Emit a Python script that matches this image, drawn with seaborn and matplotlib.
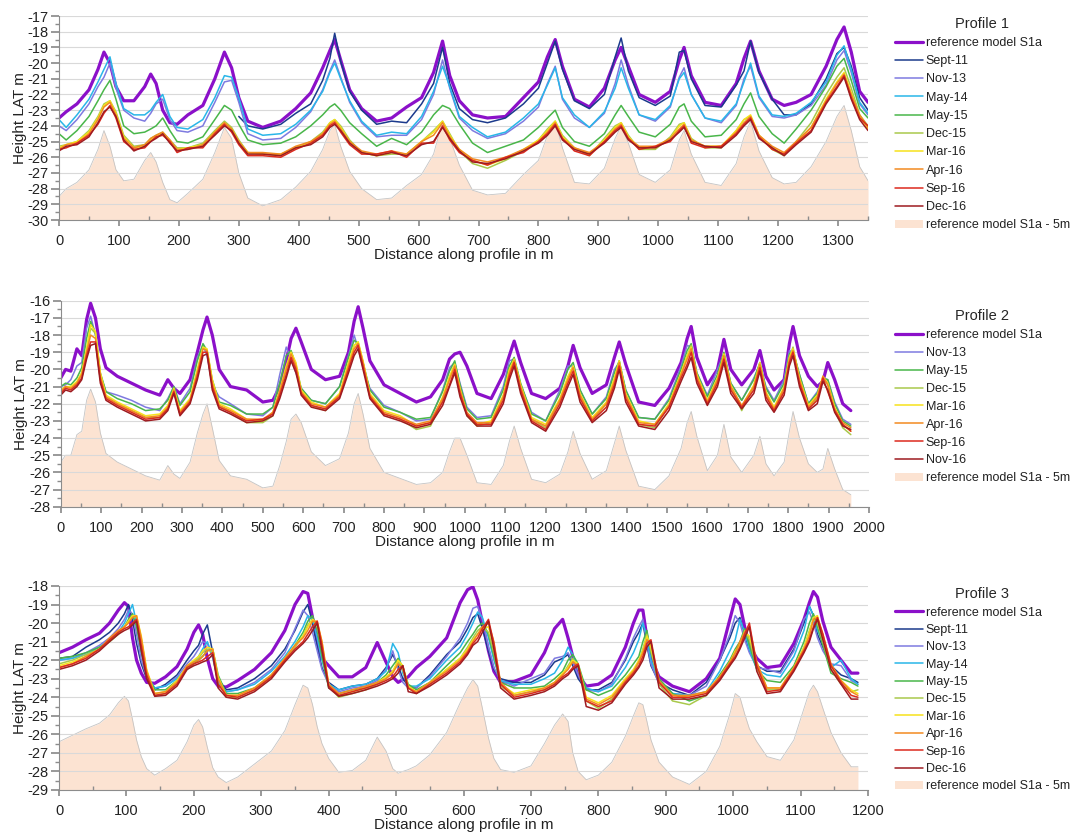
import numpy as np
import seaborn as sns
import matplotlib.pyplot as plt
from matplotlib.lines import Line2D
from matplotlib.patches import Patch
from matplotlib.ticker import MultipleLocator

sns.set_theme(style='white')
plt.rcParams['font.family'] = ['Liberation Sans', 'DejaVu Sans']
plt.rcParams['axes.unicode_minus'] = False

nan = np.nan

# ---------------- Profile 1 ----------------
p1_x = [0, 12, 30, 50, 65, 75, 85, 95, 108, 125,
        143, 153, 162, 173, 185, 197, 215, 240, 260, 276,
        288, 300, 315, 340, 370, 395, 420, 440, 452, 460,
        470, 485, 505, 530, 555, 580, 605, 625, 640, 652,
        668, 690, 715, 745, 775, 800, 815, 828, 840, 860,
        885, 910, 928, 938, 950, 968, 995, 1020, 1035, 1043,
        1055, 1078, 1105, 1130, 1143, 1154, 1168, 1190, 1210, 1230,
        1255, 1280, 1298, 1310, 1322, 1336, 1350]

p1_ref = [-23.5, -23.1, -22.6, -21.7, -20.4, -19.3, -20.0, -21.5, -22.4, -22.4,
          -21.5, -20.7, -21.3, -23.0, -23.8, -23.9, -23.3, -22.7, -21.0, -19.3,
          -20.3, -22.2, -23.7, -24.1, -23.7, -22.9, -21.9, -20.3, -19.2, -18.5,
          -19.8, -21.7, -22.9, -23.7, -23.5, -22.8, -22.2, -20.6, -18.6, -20.8,
          -22.4, -23.3, -23.5, -23.4, -22.2, -21.2, -19.6, -18.5, -20.2, -22.3,
          -22.8, -21.6, -19.8, -19.0, -20.2, -22.0, -22.5, -21.8, -19.8, -19.0,
          -20.8, -22.5, -22.7, -21.3, -19.7, -18.6, -20.5, -22.3, -22.7, -22.5,
          -22.0, -20.2, -18.5, -17.7, -19.3, -21.8, -22.5]

p1_sep11 = [nan] * 21 + [
    -23.4, -24.0, -24.2, -23.9, -23.2, -22.6, -21.1, -19.7, -18.1, -19.9,
    -21.8, -23.0, -23.9, -23.7, -23.8, -22.6, -21.3, -19.0, -21.3, -22.9,
    -23.6, -23.8, -23.5, -22.6, -21.6, -20.0, -18.6, -20.4, -22.4, -22.9,
    -22.0, -19.6, -18.4, -20.5, -22.2, -22.7, -22.1, -19.3, -19.2, -21.0,
    -22.7, -22.8, -21.4, -20.5, -18.6, -20.6, -22.3, -23.3, -23.3, -22.6,
    -21.0, -19.4, -19.0, -20.2, -22.2, -23.0]

p1_nov13 = [-24.0, -24.3, -23.6, -22.6, -21.5, -20.9, -20.0, -21.6, -23.0, -23.5,
            -23.7, -23.2, -22.6, -22.3, -23.6, -24.3, -24.4, -24.0, -22.5, -21.2,
            -21.1, -22.5, -24.5, -24.9, -24.8, -24.1, -23.1, -21.7, -20.5, -19.8,
            -20.9, -22.5, -23.8, -24.7, -24.6, -24.6, -23.6, -22.0, -19.8, -21.6,
            -23.5, -24.3, -24.8, -24.5, -23.7, -22.8, -21.3, -20.2, -22.3, -23.5,
            -24.1, -23.2, -21.3, -19.8, -21.4, -23.3, -23.7, -22.8, -20.9, -20.3,
            -22.0, -23.5, -23.8, -22.7, -21.0, -20.2, -22.2, -23.4, -23.5, -23.3,
            -22.7, -21.4, -19.8, -19.2, -20.6, -22.6, -23.3]

p1_may14 = [-23.6, -24.1, -23.3, -22.3, -21.2, -20.4, -19.6, -21.3, -22.9, -23.3,
            -23.3, -23.0, -22.5, -22.0, -23.4, -24.1, -24.2, -23.6, -22.2, -20.8,
            -20.9, -22.2, -24.2, -24.6, -24.5, -23.9, -23.0, -21.8, -20.6, -20.0,
            -21.0, -22.4, -23.7, -24.6, -24.4, -24.5, -23.4, -21.8, -20.2, -21.5,
            -23.4, -24.1, -24.7, -24.4, -23.5, -22.6, -21.4, -20.3, -22.2, -23.3,
            -24.1, -23.1, -21.6, -20.3, -21.6, -23.3, -23.6, -22.7, -21.0, -20.6,
            -22.0, -23.5, -23.7, -22.6, -21.2, -20.0, -22.1, -23.3, -23.4, -23.2,
            -22.5, -21.2, -19.5, -18.9, -20.4, -22.5, -23.2]

p1_may15 = [-24.5, -24.9, -24.3, -23.4, -22.4, -21.7, -21.1, -22.3, -24.0, -24.5,
            -24.4, -24.2, -24.0, -23.5, -24.3, -25.0, -25.1, -24.7, -23.6, -22.7,
            -23.0, -23.9, -24.9, -25.2, -25.1, -24.7, -24.0, -23.3, -22.8, -22.6,
            -23.0, -23.8, -24.5, -25.3, -24.8, -25.2, -24.4, -23.3, -22.7, -22.9,
            -23.9, -25.1, -25.7, -25.3, -24.9, -24.1, -23.5, -23.0, -24.1, -25.0,
            -25.3, -24.5, -23.3, -22.7, -23.4, -24.4, -24.7, -23.9, -22.8, -22.6,
            -23.7, -24.7, -24.6, -23.6, -22.6, -21.9, -23.4, -24.5, -25.1, -24.2,
            -23.0, -21.5, -20.2, -19.7, -21.1, -22.9, -23.5]

p1_dec15 = [-25.3, -25.2, -25.0, -24.3, -23.4, -22.6, -22.4, -23.1, -24.6, -25.3,
            -25.2, -24.8, -24.6, -24.4, -24.9, -25.4, -25.4, -25.1, -24.3, -23.7,
            -24.1, -24.9, -25.7, -25.8, -25.9, -25.4, -25.0, -24.4, -23.8, -23.6,
            -24.0, -24.9, -25.7, -25.9, -25.8, -25.8, -25.0, -24.3, -23.7, -24.5,
            -25.6, -26.4, -26.7, -26.2, -25.6, -24.9, -24.2, -23.7, -24.6, -25.4,
            -25.9, -24.8, -24.0, -23.8, -24.6, -25.5, -25.5, -24.7, -23.9, -23.8,
            -24.8, -25.4, -25.4, -24.3, -23.6, -23.4, -24.6, -25.5, -25.9, -25.0,
            -23.8, -22.0, -20.9, -20.3, -21.6, -23.3, -24.0]

p1_mar16 = [-25.4, -25.2, -25.0, -24.4, -23.5, -22.7, -22.4, -23.2, -24.7, -25.4,
            -25.3, -24.9, -24.7, -24.5, -25.0, -25.5, -25.4, -25.2, -24.4, -23.8,
            -24.2, -25.0, -25.7, -25.8, -25.8, -25.4, -25.1, -24.5, -23.8, -23.6,
            -24.1, -25.0, -25.7, -25.9, -25.7, -25.8, -25.0, -24.4, -23.7, -24.6,
            -25.5, -26.2, -26.5, -26.1, -25.5, -24.9, -24.3, -23.7, -24.7, -25.4,
            -25.8, -24.9, -24.1, -23.8, -24.7, -25.4, -25.4, -24.8, -24.0, -23.8,
            -24.9, -25.3, -25.3, -24.3, -23.6, -23.3, -24.6, -25.4, -25.8, -25.1,
            -24.1, -22.3, -21.2, -20.6, -21.9, -23.4, -24.2]

p1_apr16 = [-25.5, -25.2, -25.1, -24.5, -23.6, -22.8, -22.5, -23.3, -24.8, -25.4,
            -25.2, -24.8, -24.6, -24.4, -24.9, -25.5, -25.5, -25.2, -24.4, -23.8,
            -24.2, -25.0, -25.7, -25.7, -25.8, -25.3, -25.0, -24.5, -23.9, -23.7,
            -24.2, -25.0, -25.6, -25.8, -25.6, -25.8, -25.0, -24.6, -23.8, -24.7,
            -25.5, -26.1, -26.3, -26.0, -25.5, -25.0, -24.4, -23.8, -24.8, -25.4,
            -25.7, -25.0, -24.2, -23.9, -24.8, -25.3, -25.3, -24.8, -24.2, -23.9,
            -24.9, -25.3, -25.3, -24.4, -23.8, -23.4, -24.6, -25.3, -25.7, -25.0,
            -24.1, -22.4, -21.3, -20.7, -22.0, -23.3, -24.1]

p1_sep16 = [-25.5, -25.4, -25.1, -24.6, -23.9, -23.2, -22.7, -23.5, -25.0, -25.5,
            -25.4, -25.0, -24.7, -24.6, -25.0, -25.7, -25.4, -25.4, -24.5, -23.9,
            -24.4, -25.2, -25.9, -25.9, -26.0, -25.5, -25.1, -24.6, -24.0, -23.8,
            -24.4, -25.2, -25.8, -25.8, -25.6, -26.0, -25.1, -25.1, -24.0, -24.9,
            -25.7, -26.2, -26.5, -26.0, -25.7, -25.0, -24.5, -23.9, -24.8, -25.6,
            -25.9, -25.0, -24.3, -24.0, -24.8, -25.5, -25.3, -25.0, -24.3, -24.0,
            -25.1, -25.4, -25.3, -24.5, -23.9, -23.5, -24.7, -25.5, -25.8, -25.1,
            -24.3, -22.5, -21.5, -20.8, -22.2, -23.5, -24.0]

p1_dec16 = [-25.6, -25.3, -25.2, -24.7, -23.8, -23.1, -22.8, -23.4, -24.9, -25.6,
            -25.3, -25.0, -24.8, -24.5, -25.1, -25.6, -25.5, -25.3, -24.6, -24.0,
            -24.3, -25.1, -25.8, -25.8, -25.9, -25.4, -25.2, -24.7, -24.1, -23.9,
            -24.3, -25.1, -25.7, -25.9, -25.7, -25.9, -25.2, -25.0, -24.1, -24.8,
            -25.6, -26.3, -26.4, -26.1, -25.6, -25.1, -24.6, -24.0, -24.9, -25.5,
            -25.8, -25.1, -24.4, -24.1, -24.9, -25.4, -25.4, -24.9, -24.4, -24.1,
            -25.0, -25.3, -25.4, -24.6, -24.0, -23.6, -24.8, -25.4, -25.9, -25.2,
            -24.4, -22.6, -21.6, -20.9, -22.3, -23.6, -24.3]

p1_minus5 = [-28.5, -28.0, -27.6, -26.8, -25.5, -24.3, -25.3, -26.8, -27.5, -27.4,
             -26.2, -25.7, -26.3, -27.6, -28.7, -28.9, -28.3, -27.4, -25.7, -24.1,
             -24.8, -27.0, -28.6, -29.1, -28.7, -27.9, -26.9, -25.5, -24.3, -23.9,
             -25.3, -26.9, -28.0, -28.7, -28.6, -27.8, -27.1, -25.8, -23.7, -24.8,
             -26.5, -28.1, -28.4, -28.3, -27.1, -26.2, -24.6, -23.7, -25.4, -27.6,
             -27.7, -26.7, -24.8, -24.0, -25.1, -27.1, -27.6, -26.8, -24.9, -24.3,
             -25.8, -27.6, -27.8, -26.4, -24.7, -23.7, -25.6, -27.3, -27.7, -27.6,
             -26.6, -25.0, -23.4, -22.7, -24.3, -26.6, -27.5]

# ---------------- Profile 2 ----------------
p2_x = [0, 12, 25, 40, 52, 64, 74, 86, 98, 112,
        140, 175, 210, 245, 265, 280, 295, 320, 338, 352,
        362, 375, 392, 420, 460, 500, 525, 542, 558, 570,
        582, 595, 620, 655, 690, 712, 726, 736, 748, 765,
        800, 840, 880, 915, 945, 962, 975, 988, 1005, 1030,
        1065, 1095, 1110, 1122, 1138, 1165, 1200, 1235, 1255, 1268,
        1285, 1315, 1350, 1370, 1382, 1398, 1430, 1470, 1505, 1535,
        1550, 1560, 1574, 1600, 1625, 1641, 1658, 1685, 1715, 1730,
        1745, 1765, 1790, 1803, 1812, 1828, 1850, 1872, 1886, 1898,
        1915, 1935, 1955]

p2_ref = [-20.5, -20.0, -20.1, -18.8, -19.2, -17.1, -16.15, -17.0, -18.8, -19.9,
          -20.4, -20.8, -21.2, -21.5, -20.6, -21.1, -21.4, -20.6, -19.0, -17.7,
          -16.95, -18.0, -20.0, -21.0, -21.2, -21.9, -21.8, -21.0, -19.5, -18.2,
          -17.6, -18.4, -20.0, -20.6, -20.4, -19.0, -17.2, -16.35, -17.6, -19.5,
          -20.9, -21.4, -21.9, -21.6, -20.6, -19.4, -19.1, -19.0, -19.8, -21.4,
          -21.7, -20.3, -19.2, -18.35, -19.6, -21.4, -21.7, -21.1, -19.8, -18.6,
          -19.9, -21.4, -20.9, -19.3, -18.4, -19.7, -21.9, -22.1, -21.1, -19.6,
          -18.2, -17.5, -19.3, -20.9, -20.0, -18.25, -20.0, -20.9, -20.0, -18.9,
          -20.4, -21.2, -20.6, -18.5, -17.5, -19.2, -20.4, -21.0, -20.7, -19.6,
          -20.6, -22.0, -22.4]

p2_nov13 = [-21.0, -20.9, -20.6, -19.8, -19.6, -17.6, -16.9, -18.0, -20.3, -21.3,
            -21.5, -21.8, -22.2, -22.4, -21.7, -21.0, -22.0, -21.1, -19.3, -18.6,
            -19.2, -20.9, -21.6, -22.0, -22.6, -22.7, -22.2, -20.3, -18.7, -19.4,
            -20.2, -21.1, -21.8, -22.0, -21.0, -19.2, -18.0, -18.8, -19.9, -21.1,
            -22.1, -22.5, -23.0, -22.9, -21.2, -19.9, -19.6, -20.8, -22.2, -22.8,
            -22.7, -21.0, -19.5, -19.4, -20.9, -22.5, -23.0, -21.2, -19.8, -19.8,
            -21.2, -22.6, -21.6, -20.0, -19.6, -21.2, -22.8, -22.9, -21.7, -19.8,
            -18.6, -18.7, -20.2, -21.5, -20.0, -19.1, -20.8, -21.8, -20.5, -19.7,
            -21.0, -21.8, -20.6, -18.9, -19.0, -20.3, -22.0, -21.3, -20.5, -20.6,
            -21.9, -22.9, -23.2]

p2_may15 = [-21.0, -20.8, -20.9, -20.5, -19.9, -18.2, -17.2, -17.9, -20.2, -21.3,
            -21.7, -22.0, -22.4, -22.3, -21.8, -21.0, -22.1, -21.3, -19.5, -18.5,
            -18.9, -20.6, -21.9, -22.1, -22.6, -22.6, -22.2, -20.8, -19.2, -18.9,
            -19.8, -21.1, -21.8, -22.0, -21.0, -19.3, -18.3, -18.5, -19.6, -21.2,
            -22.2, -22.5, -22.9, -22.8, -21.3, -20.1, -19.5, -20.9, -22.3, -22.9,
            -22.8, -21.2, -19.8, -19.3, -20.8, -22.6, -23.0, -21.4, -20.0, -19.6,
            -21.2, -22.6, -21.7, -20.2, -19.5, -21.2, -22.8, -22.9, -21.8, -20.0,
            -18.9, -18.5, -20.2, -21.6, -20.3, -19.0, -20.8, -21.8, -20.6, -19.6,
            -21.1, -21.9, -20.8, -19.1, -18.9, -20.3, -22.0, -21.4, -20.5, -20.6,
            -22.0, -23.0, -23.3]

p2_dec15 = [-21.2, -21.0, -21.1, -20.8, -20.2, -18.9, -17.6, -17.9, -20.3, -21.6,
            -22.0, -22.4, -22.8, -22.8, -22.2, -21.2, -22.6, -21.8, -20.1, -18.7,
            -18.9, -20.7, -22.1, -22.5, -23.1, -23.1, -22.7, -21.3, -19.9, -19.0,
            -19.7, -21.3, -22.1, -22.4, -21.5, -19.7, -18.6, -18.4, -19.6, -21.5,
            -22.6, -22.9, -23.5, -23.3, -21.8, -20.5, -19.7, -21.2, -22.7, -23.3,
            -23.1, -21.6, -20.1, -19.4, -21.0, -22.9, -23.4, -21.8, -20.5, -19.8,
            -21.5, -23.0, -22.0, -20.6, -19.5, -21.5, -23.2, -23.4, -22.1, -20.3,
            -19.2, -18.6, -20.4, -22.0, -20.6, -19.1, -21.0, -22.4, -21.0, -19.6,
            -21.4, -22.4, -21.1, -19.3, -18.7, -20.6, -22.3, -21.7, -20.5, -20.9,
            -22.4, -23.4, -23.8]

p2_mar16 = [-21.2, -21.0, -21.0, -20.7, -20.2, -18.8, -17.4, -17.8, -20.2, -21.5,
            -21.9, -22.3, -22.7, -22.6, -22.1, -21.1, -22.4, -21.7, -20.0, -18.7,
            -18.8, -20.6, -22.0, -22.3, -22.9, -23.0, -22.5, -21.2, -19.8, -19.0,
            -19.6, -21.2, -21.9, -22.2, -21.4, -19.6, -18.6, -18.4, -19.5, -21.4,
            -22.4, -22.7, -23.3, -23.1, -21.6, -20.4, -19.7, -21.1, -22.6, -23.2,
            -23.0, -21.5, -20.0, -19.4, -20.9, -22.8, -23.2, -21.7, -20.4, -19.8,
            -21.4, -22.8, -21.9, -20.5, -19.5, -21.4, -23.0, -23.2, -22.0, -20.2,
            -19.2, -18.7, -20.3, -21.8, -20.5, -19.1, -20.9, -22.2, -20.9, -19.6,
            -21.3, -22.2, -21.0, -19.3, -18.8, -20.5, -22.1, -21.5, -20.4, -20.8,
            -22.2, -23.2, -23.6]

p2_apr16 = [-21.3, -21.0, -21.1, -20.8, -20.3, -19.0, -18.0, -18.2, -20.4, -21.6,
            -22.0, -22.4, -22.8, -22.7, -22.2, -21.2, -22.5, -21.8, -20.2, -18.8,
            -18.9, -20.8, -22.1, -22.4, -22.9, -22.9, -22.5, -21.3, -20.0, -19.1,
            -19.8, -21.3, -22.0, -22.2, -21.5, -19.8, -18.8, -18.5, -19.6, -21.5,
            -22.5, -22.8, -23.2, -23.0, -21.7, -20.6, -19.8, -21.2, -22.5, -23.1,
            -23.1, -21.6, -20.2, -19.5, -21.0, -22.9, -23.3, -21.8, -20.6, -19.9,
            -21.5, -22.9, -22.0, -20.7, -19.6, -21.5, -23.1, -23.2, -22.1, -20.3,
            -19.4, -18.8, -20.4, -21.9, -20.6, -19.2, -21.0, -22.1, -21.0, -19.7,
            -21.4, -22.3, -21.1, -19.4, -18.9, -20.6, -22.2, -21.6, -20.4, -20.9,
            -22.3, -23.1, -23.4]

p2_sep16 = [-21.4, -21.1, -21.2, -20.9, -20.5, -19.2, -18.4, -18.4, -20.6, -21.7,
            -22.1, -22.5, -22.9, -22.8, -22.3, -21.3, -22.6, -21.9, -20.4, -19.0,
            -19.0, -21.0, -22.2, -22.5, -23.0, -22.9, -22.6, -21.5, -20.3, -19.3,
            -20.0, -21.4, -22.1, -22.3, -21.6, -20.0, -19.0, -18.6, -19.8, -21.6,
            -22.6, -22.9, -23.3, -23.1, -21.9, -20.9, -20.0, -21.4, -22.6, -23.2,
            -23.2, -21.8, -20.4, -19.6, -21.2, -23.0, -23.5, -22.0, -20.8, -20.1,
            -21.7, -23.0, -22.2, -20.9, -19.8, -21.7, -23.2, -23.3, -22.2, -20.5,
            -19.7, -19.0, -20.6, -22.0, -20.8, -19.4, -21.2, -22.2, -21.2, -19.9,
            -21.6, -22.4, -21.3, -19.6, -19.0, -20.8, -22.3, -21.8, -20.5, -21.3,
            -22.4, -23.2, -23.6]

p2_nov16 = [-21.5, -21.2, -21.3, -21.0, -20.6, -19.4, -18.6, -18.5, -20.8, -21.8,
            -22.2, -22.6, -23.0, -22.9, -22.4, -21.4, -22.7, -22.0, -20.6, -19.2,
            -19.1, -21.2, -22.3, -22.6, -23.1, -23.0, -22.7, -21.7, -20.5, -19.5,
            -20.2, -21.5, -22.2, -22.4, -21.7, -20.2, -19.2, -18.8, -20.0, -21.7,
            -22.7, -23.0, -23.4, -23.2, -22.1, -21.0, -20.2, -21.6, -22.7, -23.3,
            -23.3, -22.0, -20.6, -19.8, -21.4, -23.1, -23.6, -22.2, -21.0, -20.3,
            -21.9, -23.1, -22.4, -21.1, -20.0, -21.9, -23.3, -23.5, -22.4, -20.7,
            -19.9, -19.3, -20.8, -22.1, -21.0, -19.6, -21.4, -22.3, -21.4, -20.1,
            -21.8, -22.5, -21.5, -19.8, -19.2, -21.0, -22.4, -22.0, -20.7, -21.2,
            -22.5, -23.3, -23.5]

p2_minus5 = [-25.4, -25.0, -25.0, -23.8, -23.6, -21.8, -21.15, -21.9, -23.7, -24.9,
             -25.4, -25.8, -26.2, -26.45, -25.6, -26.1, -26.35, -25.4, -23.7, -22.6,
             -22.0, -23.4, -25.3, -26.2, -26.4, -26.9, -26.8, -25.6, -24.2, -22.9,
             -22.6, -23.1, -24.8, -25.6, -25.2, -23.7, -22.0, -21.4, -22.6, -24.6,
             -26.0, -26.35, -26.7, -26.6, -26.0, -24.8, -24.0, -24.0, -25.0, -26.6,
             -26.7, -25.6, -24.2, -23.3, -24.6, -26.4, -26.6, -26.1, -24.8, -23.6,
             -24.9, -26.4, -25.9, -24.3, -23.3, -24.7, -26.8, -27.0, -26.2, -24.6,
             -23.1, -22.45, -23.9, -25.9, -25.0, -23.2, -25.1, -26.0, -25.0, -23.9,
             -25.5, -26.2, -25.4, -23.6, -22.45, -24.0, -25.5, -26.0, -25.8, -24.6,
             -25.8, -27.0, -27.3]

# ---------------- Profile 3 ----------------
p3_x = [0, 20, 40, 60, 75, 88, 97, 103, 109, 115,
        122, 130, 142, 158, 175, 190, 200, 207, 213, 220,
        228, 236, 248, 265, 290, 315, 335, 350, 362, 369,
        376, 383, 390, 400, 415, 435, 455, 472, 485, 495,
        503, 510, 518, 530, 550, 575, 595, 606, 614, 621,
        628, 637, 645, 655, 675, 700, 720, 735, 747, 755,
        762, 770, 782, 800, 820, 840, 852, 860, 866, 872,
        878, 890, 910, 935, 960, 980, 995, 1003, 1010, 1017,
        1024, 1035, 1050, 1070, 1090, 1105, 1113, 1119, 1125, 1133,
        1145, 1160, 1175, 1185]

p3_ref = [-21.6, -21.3, -20.9, -20.55, -20.0, -19.3, -18.9, -19.1, -20.8, -22.0,
          -22.7, -23.2, -23.25, -22.9, -22.35, -21.4, -20.5, -20.1, -20.6, -21.9,
          -23.0, -23.4, -23.45, -23.1, -22.5, -21.6, -20.4, -19.0, -18.3, -18.4,
          -19.7, -21.0, -21.9, -22.3, -22.9, -22.9, -22.4, -21.05, -22.1, -22.9,
          -23.2, -23.05, -22.9, -22.4, -21.8, -20.8, -18.9, -18.2, -18.05, -18.75,
          -20.0, -21.5, -22.6, -23.2, -23.15, -22.8, -21.6, -20.3, -19.8, -20.8,
          -21.8, -22.8, -23.4, -23.3, -22.8, -21.3, -20.0, -19.3, -19.3, -20.8,
          -21.9, -22.9, -23.4, -23.7, -23.0, -21.9, -19.8, -18.7, -19.0, -20.2,
          -21.2, -21.9, -22.4, -22.3, -21.1, -19.8, -18.9, -18.3, -18.6, -19.9,
          -21.3, -22.0, -22.7, -22.7]

p3_sep11 = [-21.9, -21.8, -21.3, -20.9, -20.5, -20.0, -19.5, -19.0, -19.8, -21.1,
            -22.2, -23.0, -23.6, -23.3, -22.8, -22.0, -21.5, -21.2, -20.6, -20.1,
            -21.6, -23.0, -23.6, -23.5, -23.0, -22.3, -21.4, -20.4, -19.4, -19.0,
            -20.0, -21.3, -22.4, -23.2, -23.6, -23.4, -23.3, -23.0, -22.4, -21.7,
            -22.3, -23.0, -23.4, -23.5, -22.8, -21.7, -21.0, -20.3, -19.7, -19.5,
            -20.3, -21.5, -22.5, -23.0, -23.2, -23.2, -22.8, -22.1, -21.9, -21.7,
            -22.3, -23.0, -23.6, -23.6, -23.2, -22.0, -21.0, -20.5, -20.0, -21.2,
            -22.3, -23.2, -23.6, -23.9, -23.2, -22.0, -20.8, -20.0, -19.7, -20.6,
            -21.5, -22.3, -22.6, -22.6, -21.4, -20.0, -19.1, -19.6, -20.6, -21.3,
            -22.3, -22.8, -23.0, -23.2]

p3_nov13 = [-22.0, -21.9, -21.6, -21.2, -20.8, -20.3, -19.8, -19.3, -19.5, -20.6,
            -22.0, -22.9, -23.5, -23.4, -22.9, -22.2, -21.8, -21.4, -21.0, -21.1,
            -21.9, -23.1, -23.7, -23.6, -23.2, -22.5, -21.6, -20.3, -19.3, -19.6,
            -20.5, -21.5, -22.5, -23.3, -23.7, -23.5, -23.4, -23.1, -22.5, -21.5,
            -22.5, -23.2, -23.5, -23.5, -22.9, -21.8, -20.8, -20.0, -19.2, -19.1,
            -19.8, -21.3, -22.4, -23.1, -23.4, -23.0, -22.7, -21.9, -21.8, -21.6,
            -22.1, -22.8, -23.6, -23.7, -23.3, -21.9, -20.8, -20.2, -19.8, -21.1,
            -22.2, -23.3, -23.8, -23.9, -23.4, -22.0, -20.6, -19.6, -20.0, -20.9,
            -21.6, -22.4, -22.5, -22.7, -21.5, -19.8, -19.4, -20.0, -20.8, -21.5,
            -22.2, -22.3, -23.1, -23.3]

p3_may14 = [-22.0, -21.9, -21.7, -21.3, -20.9, -20.5, -20.0, -19.5, -19.0, -20.0,
            -21.6, -22.8, -23.5, -23.4, -23.0, -22.4, -22.1, -21.8, -21.4, -21.0,
            -21.8, -23.2, -23.7, -23.6, -23.3, -22.6, -21.8, -21.0, -20.2, -19.6,
            -19.8, -20.8, -22.0, -23.3, -23.6, -23.4, -23.3, -23.0, -22.6, -21.1,
            -21.6, -22.7, -23.4, -23.4, -23.0, -22.0, -21.3, -20.6, -20.0, -19.4,
            -19.7, -20.8, -22.0, -23.1, -23.3, -23.3, -23.0, -22.7, -22.0, -21.3,
            -21.7, -22.5, -23.5, -23.7, -23.4, -22.4, -21.6, -20.9, -20.0, -20.7,
            -22.0, -23.1, -23.8, -23.9, -23.7, -22.6, -21.5, -20.9, -19.8, -20.5,
            -21.4, -22.5, -22.8, -22.9, -21.8, -20.4, -19.1, -19.6, -20.4, -21.0,
            -22.4, -22.0, -23.0, -23.3]

p3_may15 = [-21.9, -21.8, -21.6, -21.3, -21.0, -20.6, -20.2, -19.8, -19.5, -20.2,
            -21.5, -22.7, -23.6, -23.6, -23.1, -22.5, -22.2, -22.0, -21.8, -21.5,
            -21.4, -22.8, -23.8, -23.8, -23.5, -22.8, -22.0, -21.2, -20.5, -19.9,
            -19.6, -20.4, -21.8, -23.5, -23.8, -23.6, -23.5, -23.2, -22.8, -22.3,
            -21.9, -22.4, -23.3, -23.6, -23.2, -22.3, -21.6, -21.0, -20.6, -20.2,
            -20.0, -20.6, -21.8, -23.2, -23.5, -23.5, -23.4, -23.0, -22.6, -22.0,
            -21.7, -22.2, -23.6, -23.9, -23.6, -22.8, -22.2, -21.8, -21.0, -20.4,
            -21.6, -23.0, -23.8, -24.2, -23.9, -22.8, -22.0, -21.4, -21.0, -20.3,
            -21.2, -22.5, -23.1, -23.2, -22.3, -21.0, -20.0, -19.5, -20.2, -21.2,
            -22.7, -23.0, -23.2, -23.4]

p3_dec15 = [-22.2, -22.0, -21.7, -21.4, -21.0, -20.6, -20.2, -19.9, -19.6, -19.7,
            -20.9, -22.6, -23.9, -23.8, -23.2, -22.4, -22.1, -21.9, -21.6, -21.4,
            -21.6, -23.0, -24.0, -24.0, -23.6, -22.9, -22.0, -21.3, -20.7, -20.1,
            -19.8, -20.2, -21.3, -23.4, -24.0, -23.8, -23.6, -23.3, -23.0, -22.6,
            -22.1, -22.5, -23.5, -23.8, -23.3, -22.5, -21.9, -21.3, -20.8, -20.4,
            -20.2, -20.5, -21.6, -23.4, -23.9, -23.7, -23.6, -23.3, -22.8, -22.3,
            -21.9, -22.4, -24.2, -24.6, -24.1, -23.1, -22.6, -22.1, -21.4, -20.6,
            -21.5, -23.3, -24.2, -24.4, -23.9, -23.0, -22.3, -21.6, -21.2, -20.4,
            -20.9, -22.4, -23.6, -23.6, -22.5, -21.3, -20.4, -19.8, -20.0, -21.0,
            -22.5, -23.3, -23.7, -23.6]

p3_mar16 = [-22.3, -22.1, -21.8, -21.4, -20.9, -20.5, -20.2, -19.9, -19.6, -19.6,
            -20.7, -22.5, -23.8, -23.7, -23.1, -22.3, -22.0, -21.8, -21.5, -21.3,
            -21.4, -22.9, -23.9, -23.9, -23.5, -22.8, -21.9, -21.2, -20.7, -20.2,
            -19.8, -20.0, -21.0, -23.3, -23.9, -23.7, -23.5, -23.2, -22.9, -22.6,
            -22.0, -22.3, -23.4, -23.7, -23.2, -22.5, -21.9, -21.4, -20.9, -20.6,
            -20.3, -20.2, -21.3, -23.3, -23.8, -23.6, -23.5, -23.2, -22.7, -22.4,
            -22.0, -22.2, -24.0, -24.3, -23.9, -23.0, -22.5, -22.0, -21.5, -20.7,
            -21.3, -23.2, -23.9, -24.0, -23.7, -22.9, -22.1, -21.5, -21.2, -20.5,
            -20.7, -22.2, -23.5, -23.5, -22.4, -21.3, -20.5, -19.7, -19.6, -20.8,
            -22.3, -23.1, -23.6, -23.8]

p3_apr16 = [-22.4, -22.2, -21.8, -21.4, -20.8, -20.4, -20.2, -20.0, -19.7, -19.6,
            -20.8, -22.6, -23.8, -23.7, -23.2, -22.3, -22.1, -22.0, -21.8, -21.5,
            -21.4, -23.0, -23.9, -23.9, -23.5, -22.8, -21.9, -21.2, -20.8, -20.4,
            -19.9, -19.9, -21.0, -23.3, -23.8, -23.6, -23.4, -23.2, -23.0, -22.7,
            -22.2, -22.5, -23.5, -23.7, -23.2, -22.6, -22.0, -21.5, -21.0, -20.6,
            -20.2, -20.0, -21.0, -23.2, -23.9, -23.7, -23.5, -23.2, -22.8, -22.5,
            -22.1, -22.3, -24.1, -24.4, -24.0, -23.1, -22.6, -22.1, -21.6, -20.9,
            -21.1, -23.1, -23.9, -23.9, -23.7, -22.9, -22.1, -21.6, -21.0, -20.5,
            -20.2, -22.1, -23.5, -23.5, -22.4, -21.4, -20.7, -19.8, -19.7, -20.6,
            -22.2, -23.1, -23.7, -23.9]

p3_sep16 = [-22.4, -22.2, -21.9, -21.4, -20.9, -20.5, -20.3, -20.2, -20.0, -19.8,
            -21.2, -22.8, -23.9, -23.8, -23.3, -22.4, -22.2, -22.1, -22.0, -21.8,
            -21.6, -23.3, -23.9, -24.0, -23.6, -22.9, -22.0, -21.4, -21.0, -20.6,
            -20.2, -19.9, -21.2, -23.4, -23.9, -23.7, -23.5, -23.3, -23.1, -22.9,
            -22.5, -22.3, -23.5, -23.8, -23.3, -22.7, -22.1, -21.6, -21.1, -20.8,
            -20.3, -19.8, -21.1, -23.3, -24.0, -23.8, -23.6, -23.3, -22.9, -22.7,
            -22.4, -22.2, -24.2, -24.5, -24.2, -23.2, -22.7, -22.3, -21.8, -21.1,
            -20.9, -23.2, -24.0, -24.0, -23.8, -23.0, -22.2, -21.8, -21.3, -20.6,
            -20.0, -22.3, -23.7, -23.6, -22.5, -21.5, -20.9, -20.2, -19.7, -20.6,
            -22.3, -23.2, -23.9, -24.0]

p3_dec16 = [-22.5, -22.3, -22.0, -21.5, -21.0, -20.6, -20.4, -20.3, -20.1, -19.9,
            -21.5, -23.0, -23.95, -23.9, -23.4, -22.5, -22.3, -22.2, -22.1, -22.0,
            -21.7, -23.5, -24.0, -24.1, -23.7, -23.0, -22.1, -21.5, -21.1, -20.8,
            -20.4, -20.0, -21.5, -23.5, -23.95, -23.8, -23.6, -23.4, -23.2, -23.0,
            -22.7, -22.3, -23.7, -23.8, -23.4, -22.8, -22.2, -21.7, -21.2, -21.0,
            -20.5, -19.9, -21.4, -23.5, -24.1, -23.9, -23.7, -23.4, -23.0, -22.8,
            -22.5, -22.3, -24.5, -24.7, -24.3, -23.3, -22.8, -22.4, -22.0, -21.3,
            -21.0, -23.5, -24.1, -24.1, -23.9, -23.1, -22.3, -21.9, -21.4, -20.8,
            -20.2, -22.6, -23.8, -23.7, -22.6, -21.6, -21.0, -20.3, -19.8, -20.9,
            -22.5, -23.3, -24.1, -24.1]

p3_minus5 = [-26.4, -26.05, -25.7, -25.4, -24.95, -24.3, -23.95, -24.2, -25.2, -26.3,
             -27.2, -27.85, -28.2, -27.85, -27.4, -26.4, -25.5, -25.2, -25.6, -26.7,
             -27.8, -28.3, -28.6, -28.3, -27.6, -26.9, -25.8, -24.4, -23.35, -23.5,
             -24.4, -25.6, -26.5, -27.3, -28.05, -27.95, -27.4, -26.15, -26.9, -27.85,
             -28.1, -28.0, -27.9, -27.7, -27.1, -25.9, -24.3, -23.5, -23.05, -23.4,
             -24.6, -26.2, -27.3, -27.9, -28.05, -27.7, -26.5, -25.5, -24.9, -25.3,
             -27.0, -28.0, -28.45, -28.2, -27.5, -26.1, -25.0, -24.3, -24.4, -25.3,
             -26.3, -27.5, -28.3, -28.7, -28.0, -26.65, -24.9, -23.8, -24.0, -24.9,
             -25.7, -26.4, -27.2, -27.4, -26.3, -24.6, -23.7, -23.35, -23.7, -24.6,
             -25.9, -27.0, -27.75, -27.75]

# ---------------- styling ----------------
colors = {
    'reference model S1a': '#8B10C9',
    'Sept-11': '#1B3A8C',
    'Nov-13': '#7E7AE0',
    'May-14': '#29B6E8',
    'May-15': '#49B64A',
    'Dec-15': '#A9C94B',
    'Mar-16': '#F7E21B',
    'Apr-16': '#F28A21',
    'Sep-16': '#DC2A1E',
    'Dec-16': '#9E1B20',
    'Nov-16': '#9E1B20',
}
fill_color = '#FCE3D2'
axis_gray = '#8c8c8c'


def draw_profile(ax, x, series, fill, ylim, xmax, title, leg_top, spacing):
    ymin, ymax = ylim
    ax.fill_between(x, fill, ymin, color=fill_color, lw=0, zorder=0.3)
    sns.lineplot(x=x, y=fill, color='#c4c4c4', lw=0.6, ax=ax,
                 estimator=None, sort=False, zorder=0.4)
    handles = []
    for name, y in series:
        lw = 2.3 if name.startswith('reference') else 1.1
        sns.lineplot(x=x, y=y, color=colors[name], lw=lw, ax=ax,
                     estimator=None, sort=False, zorder=2)
        handles.append(Line2D([0], [0], color=colors[name], lw=lw))
    handles.append(Patch(facecolor=fill_color, edgecolor='none'))
    labels = [s[0] for s in series] + ['reference model S1a - 5m']

    ax.set_xlim(0, xmax)
    ax.set_ylim(ymin, ymax)
    ax.xaxis.set_major_locator(MultipleLocator(100))
    ax.xaxis.set_minor_locator(MultipleLocator(50))
    ax.yaxis.set_major_locator(MultipleLocator(1))
    ax.yaxis.set_minor_locator(MultipleLocator(0.5))
    ax.grid(axis='y', which='major', color='#d9d9d9', lw=0.8)
    ax.grid(axis='x', visible=False)
    ax.set_axisbelow(True)
    sns.despine(ax=ax)
    for s in ['left', 'bottom']:
        ax.spines[s].set_color(axis_gray)
        ax.spines[s].set_linewidth(0.8)
    ax.tick_params(axis='x', which='major', bottom=True, direction='out',
                   length=4, pad=6, labelsize=10.5, color=axis_gray, labelcolor='#222222')
    ax.tick_params(axis='x', which='minor', bottom=True, direction='in',
                   length=3, color=axis_gray)
    ax.tick_params(axis='y', which='major', left=True, direction='out',
                   length=6, pad=1.5, labelsize=10.5, color=axis_gray, labelcolor='#222222')
    ax.tick_params(axis='y', which='minor', left=True, direction='out',
                   length=3, color=axis_gray)
    ax.set_xlabel('Distance along profile in m', fontsize=11, color='#222222')
    ax.set_ylabel('Height LAT m', fontsize=11, color='#222222')
    ax.yaxis.set_label_coords(-0.04, 0.5)
    ax.xaxis.set_label_coords(0.5, -0.135)

    leg = ax.legend(handles, labels, title=title, loc='upper left',
                    bbox_to_anchor=(0.8357, leg_top), bbox_transform=fig.transFigure,
                    frameon=False, fontsize=9, title_fontsize=10.5,
                    handlelength=2.2, handletextpad=0.25, labelspacing=spacing,
                    borderpad=0, borderaxespad=0)
    for t in leg.get_texts():
        t.set_color('#222222')


fig = plt.figure(figsize=(10.71, 8.34), dpi=100)
ax1 = fig.add_axes([0.0551, 0.7362, 0.7554, 0.2446])
ax2 = fig.add_axes([0.0567, 0.3924, 0.7547, 0.2470])
ax3 = fig.add_axes([0.0551, 0.0528, 0.7554, 0.2446])

draw_profile(ax1, p1_x, [
    ('reference model S1a', p1_ref), ('Sept-11', p1_sep11), ('Nov-13', p1_nov13),
    ('May-14', p1_may14), ('May-15', p1_may15), ('Dec-15', p1_dec15),
    ('Mar-16', p1_mar16), ('Apr-16', p1_apr16), ('Sep-16', p1_sep16),
    ('Dec-16', p1_dec16)], p1_minus5, (-30, -17), 1350, 'Profile 1', 0.980, 0.5)

draw_profile(ax2, p2_x, [
    ('reference model S1a', p2_ref), ('Nov-13', p2_nov13), ('May-15', p2_may15),
    ('Dec-15', p2_dec15), ('Mar-16', p2_mar16), ('Apr-16', p2_apr16),
    ('Sep-16', p2_sep16), ('Nov-16', p2_nov16)], p2_minus5, (-28, -16), 2000,
    'Profile 2', 0.629, 0.47)

draw_profile(ax3, p3_x, [
    ('reference model S1a', p3_ref), ('Sept-11', p3_sep11), ('Nov-13', p3_nov13),
    ('May-14', p3_may14), ('May-15', p3_may15), ('Dec-15', p3_dec15),
    ('Mar-16', p3_mar16), ('Apr-16', p3_apr16), ('Sep-16', p3_sep16),
    ('Dec-16', p3_dec16)], p3_minus5, (-29, -18), 1200, 'Profile 3', 0.296, 0.43)

fig.savefig('out.png', dpi=100)
